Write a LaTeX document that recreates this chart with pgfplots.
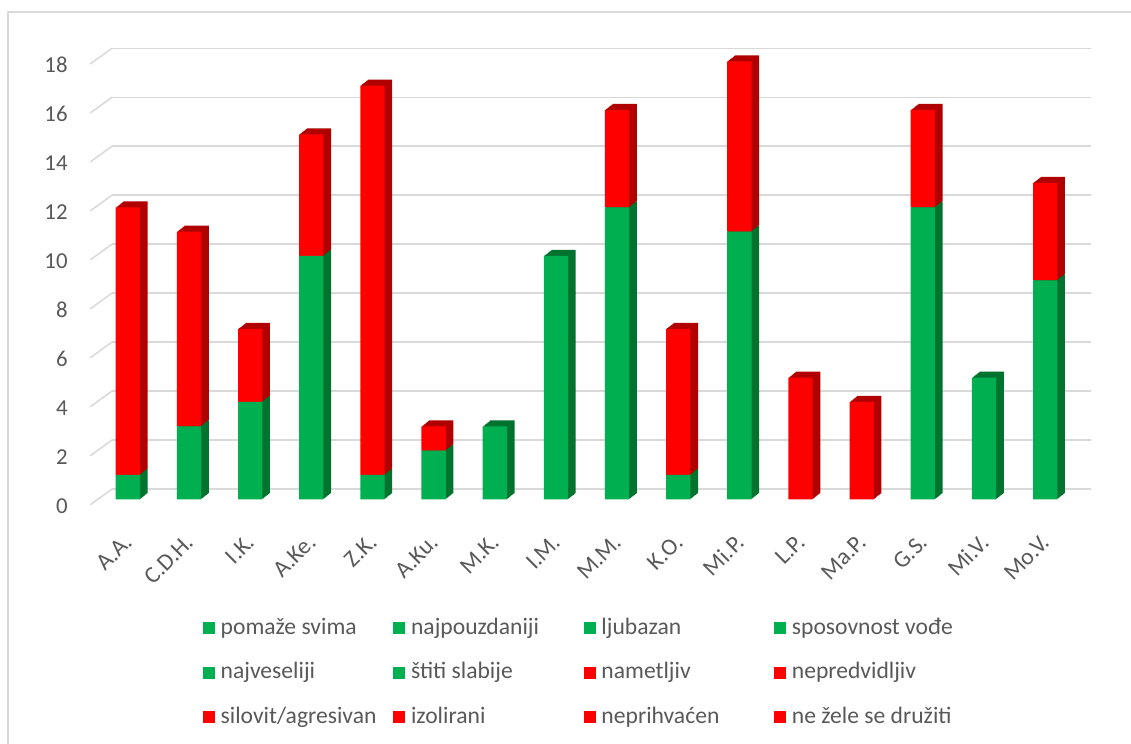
\documentclass[border=0pt]{standalone}
\usepackage{fontspec}
\setmainfont{Carlito}
\usepackage{pgfplots}
\usepackage{pgfplotstable}
\pgfplotsset{compat=1.18}
\definecolor{gr}{HTML}{00B050}
\definecolor{rd}{HTML}{FF0000}
\definecolor{grd}{HTML}{00742F}
\definecolor{rdd}{HTML}{B00000}
\definecolor{gridc}{HTML}{D9D9D9}
\definecolor{txt}{HTML}{595959}

\pgfplotstableread{
x green red
0 1 11
1 3 8
2 4 3
3 10 5
4 1 16
5 2 1
6 3 0
7 10 0
8 12 4
9 1 6
10 11 7
11 0 5
12 0 4
13 12 4
14 5 0
15 9 4
}\datatable

\pgfplotsset{barbase/.style={scale only axis, width=489.2pt, height=219pt,
  xmin=-0.5, xmax=15.5, ymin=0, ymax=18, ybar stacked, bar width=12.15pt,
  anchor=south west, clip=false}}

\newcommand\depthlayer[2]{%
\begin{axis}[barbase, hide axis, at={({48.66pt+#1},{122.35pt+#2})}]
\addplot[fill=grd, draw=none] table[x=x,y=green]{\datatable};
\addplot[fill=rdd, draw=none] table[x=x,y=red]{\datatable};
\end{axis}}

\begin{document}
\begin{tikzpicture}
\useasboundingbox (0,0) rectangle (565.5pt,372pt);
\fill[white] (0,0) rectangle (565.5pt,372pt);
\draw[gridc, line width=0.8pt] (4pt,-2pt) -- (4pt,366pt) -- (570pt,366pt);

% back wall grid
\begin{axis}[scale only axis, width=489.5pt, height=220.35pt, at={(56pt,127.5pt)},
  anchor=south west, xmin=0, xmax=1, ymin=0, ymax=18, clip=false,
  axis line style={draw=none}, xtick=\empty, ytick={0,2,...,18},
  ymajorgrids, grid style={gridc, line width=0.75pt}, major tick length=0pt,
  /pgf/number format/assume math mode=true,
  yticklabel style={font=\fontsize{11.4}{13}\selectfont, text=txt, inner sep=0pt,
    anchor=east, xshift=-22pt, yshift=-8.5pt}]
\pgfplotsinvokeforeach{0,2,...,18}{\draw[gridc, line width=0.75pt] (axis cs:0,#1) -- ++(-10.85pt,-7.85pt);}
\end{axis}

% depth layers
\depthlayer{3.8pt}{3.0pt}
\depthlayer{3.325pt}{2.625pt}
\depthlayer{2.85pt}{2.25pt}
\depthlayer{2.375pt}{1.875pt}
\depthlayer{1.9pt}{1.5pt}
\depthlayer{1.425pt}{1.125pt}
\depthlayer{0.95pt}{0.75pt}
\depthlayer{0.475pt}{0.375pt}

% front bars
\begin{axis}[barbase, at={(48.66pt,122.35pt)},
  axis line style={draw=none}, ytick=\empty, major tick length=0pt,
  xtick={0,...,15},
  xticklabels={A.A.,C.D.H.,I.K.,A.Ke.,Z.K.,A.Ku.,M.K.,I.M.,M.M.,K.O.,Mi.P.,L.P.,Ma.P.,G.S.,Mi.V.,Mo.V.},
  xticklabel style={font=\fontsize{11.8}{13}\selectfont, text=txt, inner sep=0pt,
    xshift=0.5pt, yshift=-19.5pt, rotate=45, anchor=east},
  legend columns=4,
  legend cell align=left,
  legend image code/.code={\fill[#1] (0pt,-3pt) rectangle (6pt,3pt);},
  legend style={at={(0.1077,-0.2692)}, anchor=north west, draw=none, fill=none,
    inner sep=0pt, row sep=11.45pt, font=\fontsize{11.8}{14}\selectfont, text=txt,
    nodes={inner sep=0pt, text height=8.3pt, text depth=2.5pt},
    /tikz/every odd column/.append style={column sep=2.8pt}}]
\addplot[fill=gr, draw=none] table[x=x,y=green]{\datatable};
\addlegendentry{\makebox[86.4pt][l]{pomaže svima}}
\addlegendimage{fill=gr, draw=none}
\addlegendentry{\makebox[86.4pt][l]{najpouzdaniji}}
\addlegendimage{fill=gr, draw=none}
\addlegendentry{\makebox[86.4pt][l]{ljubazan}}
\addlegendimage{fill=gr, draw=none}
\addlegendentry{\makebox[86.4pt][l]{sposovnost vođe}}
\addlegendimage{fill=gr, draw=none}
\addlegendentry{\makebox[86.4pt][l]{najveseliji}}
\addlegendimage{fill=gr, draw=none}
\addlegendentry{\makebox[86.4pt][l]{štiti slabije}}
\addplot[fill=rd, draw=none] table[x=x,y=red]{\datatable};
\addlegendentry{\makebox[86.4pt][l]{nametljiv}}
\addlegendimage{fill=rd, draw=none}
\addlegendentry{\makebox[86.4pt][l]{nepredvidljiv}}
\addlegendimage{fill=rd, draw=none}
\addlegendentry{\makebox[86.4pt][l]{silovit/agresivan}}
\addlegendimage{fill=rd, draw=none}
\addlegendentry{\makebox[86.4pt][l]{izolirani}}
\addlegendimage{fill=rd, draw=none}
\addlegendentry{\makebox[86.4pt][l]{neprihvaćen}}
\addlegendimage{fill=rd, draw=none}
\addlegendentry{\makebox[86.4pt][l]{ne žele se družiti}}
\end{axis}
\end{tikzpicture}
\end{document}
